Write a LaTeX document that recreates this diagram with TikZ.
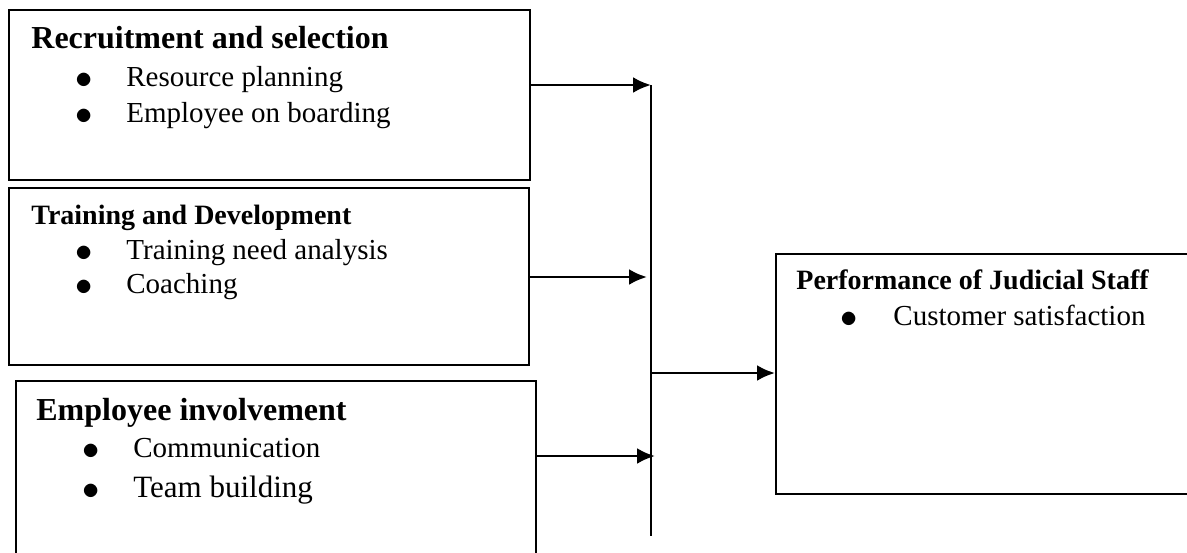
\documentclass[tikz,border=0pt]{standalone}
\usepackage{fontspec}
\setmainfont{Liberation Serif}
\usetikzlibrary{arrows.meta}

\newcommand{\bitem}[2][25.5pt]{\makebox[#1][l]{\smash{\raisebox{-1.1pt}{\fontsize{19pt}{19pt}\selectfont$\bullet$}}}#2}

\begin{document}
\begin{tikzpicture}[
    x = 0.5pt, y = -0.5pt,
    box/.style  = {draw, line width=1pt, rectangle, inner sep=0pt, anchor=north west},
    arr/.style  = {line width=1.35pt, -{Latex[length=9pt, width=8pt]}},
    head/.style = {inner sep=0pt, anchor=base west, font=\bfseries\fontsize{#1}{#1}\selectfont},
    item/.style = {inner sep=0pt, anchor=base west, font=\fontsize{#1}{#1}\selectfont}
  ]
  \clip (0,0) rectangle (1187,552);

  % the four boxes
  \node[box, minimum width=260.5pt, minimum height=85pt]    (rec)  at (8,9)    {};
  \node[box, minimum width=260pt,   minimum height=88.5pt]  (trn)  at (8,187)  {};
  \node[box, minimum width=260pt,   minimum height=110pt]   (inv)  at (15,380) {};
  \node[box, minimum width=212.5pt, minimum height=120pt]   (perf) at (775,253) {};

  % texts in the boxes
  \node[head=16pt] (recH) at (31,48) {Recruitment and selection};
  \node[item=14.5pt] (rec1) at (75,86)  {\bitem{Resource planning}};
  \node[item=14.5pt] (rec2) at (75,122) {\bitem{Employee on boarding}};

  \node[head=14pt] (trnH) at (31,224) {Training and Development};
  \node[item=14.5pt] (trn1) at (75,259) {\bitem{Training need analysis}};
  \node[item=14.5pt] (trn2) at (75,293) {\bitem{Coaching}};

  \node[head=16pt] (invH) at (36,420) {Employee involvement};
  \node[item=14.5pt] (inv1) at (82,457) {\bitem{Communication}};
  \node[item=15.5pt] (inv2) at (82,497) {\bitem{Team building}};

  \node[head=14pt] (perfH) at (796,289) {Performance of Judicial Staff};
  \node[item=14.5pt] (perf1) at (840,325) {\bitem[26.5pt]{Customer satisfaction}};

  % the bus line and the arrows
  \coordinate (busTop) at (651,85);
  \coordinate (busBot) at (651,536);
  \coordinate (in1) at (651,85);
  \coordinate (in2) at (647,277);
  \coordinate (in3) at (655,456);
  \coordinate (out) at (651,373);

  \draw[line width=1pt] (busTop) -- (busBot);
  \draw[arr] (rec.east |- in1) -- (in1);
  \draw[arr] (trn.east |- in2) -- (in2);
  \draw[arr] (inv.east |- in3) -- (in3);
  \draw[arr] (out) -- (perf.west |- out);
\end{tikzpicture}
\end{document}
